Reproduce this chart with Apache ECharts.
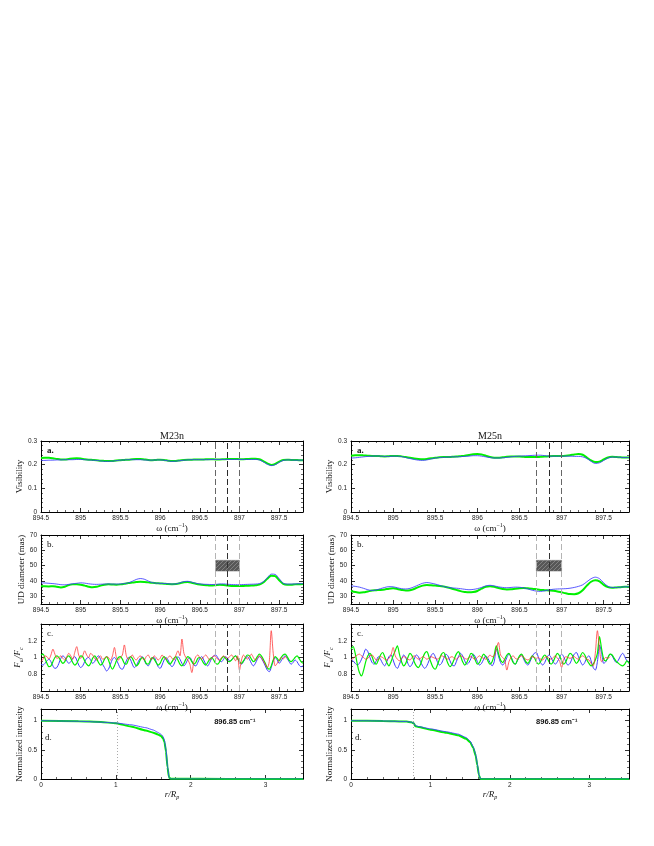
<!DOCTYPE html>
<html><head><meta charset="utf-8">
<script src="https://cdn.jsdelivr.net/npm/echarts@6/dist/echarts.min.js"></script>
<style>html,body{margin:0;padding:0;background:#fff}#c{width:654px;height:846px}</style>
</head><body><div id="c"></div>
<script>
// ---------------- DATA ----------------
const titles = ['M23n', 'M25n'];
const panelTags = ['a.', 'b.', 'c.', 'd.'];
const vLines = [896.7, 896.85, 897.0];
const udBox = [46.5, 53.5];
const dDotted = [1.02, 0.78];
const dNote = '896.85 cm⁻¹';
const abStart = 894.5, abStep = 0.05, abCount = 67;
const cStart = 894.5, cStep = 0.025, cCount = 133;

const visLeftGreen = [0.228,0.229,0.229,0.227,0.224,0.222,0.222,0.224,0.226,0.227,
 0.226,0.223,0.221,0.220,0.219,0.217,0.216,0.215,0.216,0.218,
 0.219,0.220,0.221,0.223,0.224,0.224,0.222,0.220,0.219,0.220,
 0.221,0.220,0.217,0.215,0.216,0.218,0.220,0.221,0.221,0.222,
 0.222,0.222,0.223,0.223,0.222,0.222,0.223,0.224,0.224,0.224,
 0.223,0.223,0.224,0.225,0.225,0.223,0.215,0.205,0.199,0.203,
 0.213,0.220,0.221,0.220,0.220,0.219,0.219];
const visLeftBlue = [0.218,0.218,0.219,0.219,0.220,0.220,0.221,0.221,0.221,0.222,
 0.222,0.221,0.220,0.219,0.218,0.216,0.214,0.214,0.215,0.217,
 0.219,0.220,0.221,0.221,0.221,0.221,0.220,0.219,0.219,0.220,
 0.220,0.219,0.216,0.214,0.215,0.217,0.219,0.220,0.221,0.221,
 0.221,0.221,0.221,0.222,0.222,0.222,0.222,0.222,0.222,0.222,
 0.222,0.222,0.222,0.222,0.222,0.220,0.212,0.202,0.196,0.200,
 0.210,0.218,0.220,0.220,0.219,0.219,0.219];
const visRightGreen = [0.238,0.240,0.240,0.239,0.238,0.237,0.237,0.236,0.235,0.236,
 0.237,0.237,0.235,0.232,0.229,0.226,0.224,0.223,0.224,0.227,
 0.229,0.231,0.232,0.232,0.233,0.234,0.236,0.238,0.241,0.244,
 0.245,0.243,0.238,0.232,0.229,0.229,0.231,0.233,0.234,0.234,
 0.234,0.233,0.232,0.232,0.232,0.233,0.234,0.236,0.237,0.237,
 0.237,0.238,0.240,0.243,0.245,0.242,0.230,0.218,0.211,0.213,
 0.222,0.230,0.233,0.232,0.231,0.230,0.230];
const visRightBlue = [0.228,0.229,0.231,0.233,0.235,0.236,0.237,0.236,0.235,0.235,
 0.236,0.236,0.234,0.230,0.226,0.222,0.219,0.218,0.220,0.224,
 0.228,0.230,0.231,0.232,0.233,0.233,0.234,0.235,0.236,0.238,
 0.238,0.236,0.233,0.230,0.228,0.228,0.229,0.231,0.233,0.235,
 0.236,0.237,0.238,0.239,0.240,0.240,0.238,0.236,0.236,0.236,
 0.236,0.236,0.236,0.235,0.235,0.233,0.226,0.214,0.205,0.208,
 0.218,0.228,0.232,0.232,0.231,0.230,0.230];

const udLeftBlue = [38.8,38.7,38.5,38.3,38.0,37.6,37.5,37.8,38.2,38.5,
 38.8,38.6,38.2,37.9,37.8,37.9,38.0,38.1,38.0,38.0,
 38.1,38.3,38.8,39.8,41.0,41.6,41.2,40.0,39.0,38.6,
 38.5,38.4,38.2,38.0,38.1,38.8,39.6,39.8,39.2,38.5,
 38.1,37.9,37.8,37.7,37.8,38.0,38.1,37.9,37.7,37.6,
 37.6,37.7,37.8,37.9,38.0,38.3,39.5,42.0,44.5,44.3,
 41.5,38.5,38.0,38.0,38.1,38.2,38.3];
const udLeftGreen = [36.8,36.5,36.4,36.6,36.2,35.8,36.3,37.3,37.8,37.9,
 37.6,37.0,36.3,35.9,36.2,37.0,37.6,37.8,37.7,37.6,
 37.8,38.2,38.7,39.0,39.3,39.5,39.4,39.1,38.8,38.6,
 38.4,38.2,38.0,37.9,38.0,38.5,39.2,39.4,38.9,38.2,
 37.7,37.4,37.2,37.0,37.3,37.6,37.4,37.0,36.8,36.7,
 36.7,36.8,36.9,37.0,37.2,37.6,39.0,41.5,43.5,43.2,
 40.5,38.2,37.6,37.6,37.8,37.9,38.0];
const udRightBlue = [36.8,36.5,36.0,35.2,34.3,33.8,34.2,35.0,35.8,36.3,
 36.2,35.6,35.0,34.8,35.2,36.2,37.4,38.5,39.0,38.6,
 38.0,37.2,36.4,35.8,35.5,35.3,35.0,34.6,34.3,34.5,
 35.0,35.8,36.8,37.2,36.8,36.2,35.8,35.6,35.8,36.0,
 35.9,35.5,34.8,34.0,33.4,33.2,33.6,34.2,34.6,34.8,
 34.9,35.0,35.3,35.8,36.5,37.5,39.5,41.5,42.5,41.5,
 38.8,36.5,35.8,35.8,36.0,36.2,36.3];
const udRightGreen = [33.5,32.8,32.4,32.6,33.2,33.8,34.0,34.2,34.5,35.0,
 35.2,34.8,34.2,33.8,34.0,34.8,36.0,37.0,37.4,37.2,
 37.0,36.8,36.4,35.8,35.0,34.2,33.4,32.9,32.6,32.8,
 33.5,35.0,36.2,36.6,36.2,35.4,34.8,34.5,34.6,35.0,
 35.3,35.4,35.2,35.0,34.6,34.2,34.0,33.8,33.6,33.2,
 32.6,32.0,31.5,31.4,32.0,34.0,37.0,39.5,40.5,39.8,
 37.5,36.0,35.6,35.8,36.0,36.2,36.3];

const fluxLeftBlue = [0.92,0.91,0.93,0.96,0.98,0.95,0.90,0.87, 0.88,0.93,0.99,1.02,1.00,0.96,0.93,0.95,
 0.99,1.01,0.97,0.91,0.88,0.90,0.95,0.99, 1.00,0.97,0.93,0.95,1.00,1.02,0.98,0.92,
 0.88,0.84,0.86,0.92,0.98,1.00,0.97,0.92, 0.87,0.86,0.90,0.96,1.00,0.98,0.92,0.88,
 0.90,0.95,0.99,1.01,0.97,0.92,0.90,0.94, 0.99,1.00,0.95,0.89,0.87,0.91,0.97,1.00,
 0.97,0.92,0.89,0.92,0.98,1.01,0.98,0.93, 0.90,0.93,0.98,1.00,0.96,0.91,0.90,0.94,
 0.99,1.01,0.97,0.92,0.90,0.94,0.99,1.02, 1.03,1.00,0.96,0.95,0.98,1.01,0.99,0.96,
 0.97,1.00,1.02,0.99,0.94,0.92,0.95,0.99, 1.01,0.98,0.93,0.90,0.93,0.98,1.01,0.99,
 0.95,0.90,0.85,0.83,0.88,0.96,1.00,0.97, 0.93,0.96,1.00,1.02,0.99,0.95,0.92,0.94,
 0.97,0.95,0.91,0.89,0.90];
const fluxLeftGreen = [1.03,1.04,0.99,0.93,0.89,0.90,0.95,1.00, 1.02,1.00,0.96,0.93,0.95,1.00,1.02,0.99,
 0.94,0.91,0.93,0.98,1.02,1.01,0.96,0.92, 0.90,0.93,0.99,1.02,0.99,0.94,0.91,0.93,
 0.98,1.01,0.97,0.90,0.86,0.90,0.96,1.00, 1.01,0.98,0.93,0.92,0.97,1.01,0.99,0.94,
 0.90,0.92,0.97,1.00,0.98,0.93,0.92,0.96, 1.00,0.98,0.94,0.91,0.93,0.98,1.01,0.98,
 0.94,0.92,0.95,0.99,1.01,0.97,0.92,0.90, 0.93,0.98,1.01,0.99,0.95,0.92,0.94,0.99,
 1.00,0.97,0.93,0.91,0.94,0.98,1.00,0.97, 0.93,0.92,0.95,0.99,1.01,0.99,0.96,0.95,
 0.97,1.00,1.02,0.99,0.95,0.93,0.96,1.00, 1.03,1.02,0.98,0.95,0.97,1.01,1.04,1.02,
 0.98,0.93,0.88,0.86,0.90,0.97,1.01,0.99, 0.96,1.00,1.03,1.04,1.01,0.97,0.95,0.97,
 1.00,1.02,0.99,0.95,0.93];
const fluxLeftRed = [0.95,0.98,1.02,1.01,0.98,1.03,1.10,1.04, 0.99,1.00,1.02,0.99,0.97,1.01,1.05,1.02,
 0.98,1.06,1.13,1.03,0.99,1.02,1.08,1.03, 1.00,1.05,1.03,0.99,0.97,1.00,1.02,0.98,
 0.99,1.01,1.00,0.97,1.02,1.12,1.00,0.97, 1.00,1.03,1.15,1.02,0.98,1.00,1.03,0.99,
 0.97,1.00,1.02,0.99,0.97,1.01,1.03,0.99, 0.98,1.02,1.00,0.97,0.99,1.03,1.00,0.98,
 1.00,1.02,0.99,0.97,1.03,1.08,1.02,1.22, 1.05,1.00,0.97,0.92,0.82,0.95,1.01,1.03,
 1.00,0.98,1.01,1.03,1.00,0.97,0.99,1.02, 1.01,0.98,0.97,1.00,1.02,1.00,0.99,1.01,
 1.03,1.00,0.96,1.02,0.85,0.97,1.03,1.00, 0.98,1.01,1.04,1.00,0.97,0.99,1.02,1.00,
 0.96,0.92,0.88,0.95,1.32,1.05,0.90,0.93, 0.97,1.00,0.98,1.01,0.99];
const fluxRightBlue = [0.98,0.96,0.93,0.91,0.93,0.98,1.04,1.10, 1.07,1.00,0.94,0.92,0.96,1.01,0.98,0.93,
 0.90,0.95,1.01,1.03,0.97,0.90,0.87,0.92, 0.98,1.03,1.00,0.93,0.89,0.92,0.98,1.03,
 1.01,0.95,0.90,0.87,0.90,0.96,1.02,1.05, 1.01,0.95,0.91,0.93,0.99,1.04,1.02,0.96,
 0.91,0.90,0.95,1.01,1.05,1.02,0.96,0.92, 0.94,0.99,1.04,1.01,0.95,0.91,0.93,0.98,
 1.02,0.99,0.94,0.90,0.95,1.10,1.02,0.94, 0.91,0.94,1.00,1.04,1.01,0.95,0.92,0.96,
 1.01,1.03,0.98,0.93,0.91,0.95,1.01,1.05, 1.06,1.00,0.94,0.91,0.94,1.00,1.03,1.00,
 0.95,0.92,0.95,1.00,1.04,1.01,0.95,0.91, 0.93,0.99,1.04,1.06,1.01,0.95,0.91,0.94,
 1.00,1.02,0.96,0.88,0.85,0.95,1.15,1.05, 0.93,0.95,1.00,1.04,1.02,0.97,0.94,0.97,
 1.02,1.05,1.01,0.96,0.95];
const fluxRightGreen = [1.10,1.13,1.05,0.92,0.82,0.78,0.85,0.95, 1.02,1.05,1.01,0.94,0.92,0.97,1.03,1.06,
 1.01,0.94,0.90,0.95,1.02,1.08,1.14,1.04, 0.95,0.90,0.93,1.00,1.05,1.02,0.95,0.90,
 0.88,0.92,0.99,1.05,1.07,1.01,0.94,0.88, 0.86,0.91,0.98,1.04,1.06,1.00,0.93,0.89,
 0.92,0.98,1.04,1.07,1.02,0.95,0.91,0.94, 1.00,1.05,1.03,0.97,0.92,0.94,1.00,1.04,
 1.01,0.96,0.92,0.95,1.03,1.14,1.05,0.97, 0.94,0.98,1.03,1.05,1.00,0.94,0.92,0.97,
 1.02,1.04,1.00,0.95,0.93,0.97,1.02,1.00, 0.95,0.92,0.95,1.00,1.03,1.00,0.95,0.92,
 0.95,1.01,1.05,1.02,0.96,0.92,0.95,1.01, 1.05,1.03,0.97,0.93,0.96,1.02,1.06,1.03,
 0.97,0.93,0.90,0.92,0.97,1.05,1.25,1.10, 0.98,0.96,1.00,1.04,1.03,0.99,0.95,0.93,
 0.91,0.90,0.92,0.96,0.93];
const fluxRightRed = [0.97,0.99,1.01,1.03,1.04,1.02,1.00,0.98, 0.99,1.02,1.03,1.00,0.97,0.98,1.01,1.00,
 0.98,0.97,0.99,1.03,1.12,1.02,0.98,0.96, 0.99,1.01,1.00,0.98,0.97,1.00,1.02,1.00,
 0.98,0.99,1.01,1.00,0.98,0.99,1.01,1.00, 0.99,0.98,1.00,1.02,1.01,0.99,0.98,1.00,
 1.01,0.99,0.98,1.00,1.02,1.01,0.99,0.98, 1.00,1.01,0.99,0.98,1.00,1.02,1.00,0.99,
 0.98,1.00,1.03,1.01,1.02,1.10,1.18,1.03, 1.00,0.97,0.85,0.95,1.00,1.02,0.99,0.98,
 1.00,1.02,1.00,0.98,0.97,0.99,1.01,1.00, 0.99,1.00,0.98,0.97,1.00,1.01,0.99,0.98,
 1.00,1.02,0.99,0.96,0.88,0.98,1.01,1.00, 0.99,1.00,1.01,0.99,0.98,1.00,1.02,1.00,
 0.98,0.97,0.93,0.90,1.05,1.32,1.10,0.95, 0.98,1.00,0.99,1.01];

const rLeft = [0, 0.5, 0.8, 1.0, 1.2, 1.4, 1.5, 1.56, 1.6, 1.63, 1.65, 1.67, 1.69, 1.71, 1.73, 2.5, 3.5];
const intLeftBlue = [1.0, 0.99, 0.975, 0.96, 0.93, 0.88, 0.84, 0.80, 0.77, 0.73, 0.66, 0.50, 0.22, 0.03, 0.0, 0.0, 0.0];
const intLeftGreen = [1.0, 0.99, 0.978, 0.955, 0.90, 0.83, 0.795, 0.765, 0.74, 0.70, 0.63, 0.47, 0.20, 0.03, 0.005, 0.0, 0.0];
const rRight = [0, 0.4, 0.7, 0.76, 0.79, 0.81, 0.85, 1.0, 1.2, 1.35, 1.45, 1.5, 1.54, 1.57, 1.59, 1.61, 1.63, 2.5, 3.5];
const intRightBlue = [1.0, 0.995, 0.985, 0.975, 0.96, 0.915, 0.90, 0.86, 0.81, 0.77, 0.71, 0.65, 0.55, 0.42, 0.26, 0.08, 0.0, 0.0, 0.0];
const intRightGreen = [1.0, 0.995, 0.985, 0.972, 0.955, 0.905, 0.89, 0.845, 0.795, 0.75, 0.69, 0.63, 0.53, 0.40, 0.24, 0.07, 0.0, 0.0, 0.0];

// ---------------- LAYOUT / STYLE ----------------
const FT = 'Liberation Sans', FS = 'Liberation Serif';
const GREEN = '#00f000', BLUE = '#3c3cff', RED = '#ff3030';
const cols = [41, 351], widths = [262, 278];
const rows = [[441, 71], [535, 69], [624, 67], [709, 70]];

function grid(start, step, n) { const g = []; for (let i = 0; i < n; i++) g.push(+(start + step * i).toFixed(4)); return g; }
const wAB = grid(abStart, abStep, abCount);
const wC = grid(cStart, cStep, cCount);
const pairs = (xs, ys) => ys.map((v, i) => [xs[i], v]);

function hatch() {
  const cv = document.createElement('canvas'); cv.width = 4; cv.height = 4;
  const g = cv.getContext('2d'); g.fillStyle = '#575757'; g.fillRect(0, 0, 4, 4);
  g.strokeStyle = '#8c8c8c'; g.lineWidth = 0.8; g.beginPath(); g.moveTo(0, 4); g.lineTo(4, 0); g.stroke();
  return cv;
}

const grids = [], xAxes = [], yAxes = [], series = [], graphics = [];
const nameStyle = { fontFamily: FS, fontSize: 9, color: '#111',
  rich: { n: { fontFamily: FS, fontSize: 9, color: '#111' },
          i: { fontFamily: FS, fontSize: 9, fontStyle: 'italic', color: '#111' },
          sub: { fontFamily: FS, fontSize: 6, fontStyle: 'italic', color: '#111', padding: [6, 0, 0, 0] },
          sup: { fontFamily: FS, fontSize: 6, color: '#111', padding: [0, 0, 6, 0] } } };

function axisPair(gi, cfg, isX) {
  const tick = { show: true, inside: true, length: 4, lineStyle: { color: '#000', width: 0.8 } };
  const minor = { show: true, splitNumber: cfg.minor, length: 2, lineStyle: { color: '#000', width: 0.6 } };
  const line = { show: true, onZero: false, lineStyle: { color: '#000', width: 1 } };
  const base = { type: 'value', gridIndex: gi, min: cfg.min, max: cfg.max, splitLine: { show: false },
    axisLine: line, axisTick: tick, minorTick: minor, minorSplitLine: { show: false } };
  if (cfg.interval !== undefined) base.interval = cfg.interval;
  if (cfg.splitNumber !== undefined) base.splitNumber = cfg.splitNumber;
  const main = Object.assign({}, base, {
    position: isX ? 'bottom' : 'left',
    axisLabel: { show: true, fontFamily: FT, fontSize: 6.5, color: '#222', margin: isX ? 3 : 4,
      showMinLabel: cfg.showMin !== false, showMaxLabel: cfg.showMax === true },
    name: cfg.name, nameLocation: 'middle', nameGap: isX ? 7 : 13, nameTextStyle: nameStyle
  });
  const mirror = Object.assign({}, base, { position: isX ? 'top' : 'right', axisLabel: { show: false } });
  return [main, mirror];
}

function addPanel(r, c, xcfg, ycfg) {
  const gi = grids.length;
  grids.push({ left: cols[c], top: rows[r][0], width: widths[c], height: rows[r][1] });
  xAxes.push(...axisPair(gi, xcfg, true));
  yAxes.push(...axisPair(gi, ycfg, false));
  graphics.push({ type: 'text', left: cols[c] + (r === 3 ? 4 : 6), top: rows[r][0] + (r === 3 ? 24 : 5),
    style: { text: panelTags[r], font: (r === 0 ? 'bold ' : '') + '9px ' + FS, fill: '#111' } });
  return 2 * gi;
}
function line(ax, data, color, width, extra) {
  return Object.assign({ type: 'line', xAxisIndex: ax, yAxisIndex: ax, data, showSymbol: false, symbol: 'none',
    smooth: 0.3, lineStyle: { color, width }, silent: true, animation: false, z: 3 }, extra || {});
}
function vmarks(kind) {
  const cls = kind === 'a' ? ['#666', '#2a2a2a', '#666'] : ['#b4b4b4', '#333', '#b4b4b4'];
  return { symbol: ['none', 'none'], silent: true, label: { show: false }, animation: false,
    data: vLines.map((v, k) => ({ xAxis: v, lineStyle: { color: cls[k], width: 1, type: [6, 3] } })) };
}

const wName = '{n|ω (cm}{sup|−1}{n|)}';
const xW = { min: 894.5, max: 897.8, interval: 0.5, minor: 5, name: wName };
const visSets = [[visLeftGreen, visLeftBlue], [visRightGreen, visRightBlue]];
const udSets = [[udLeftGreen, udLeftBlue], [udRightGreen, udRightBlue]];
const fluxSets = [[fluxLeftBlue, fluxLeftGreen, fluxLeftRed], [fluxRightBlue, fluxRightGreen, fluxRightRed]];
const intSets = [[rLeft, intLeftGreen, intLeftBlue], [rRight, intRightGreen, intRightBlue]];

for (let c = 0; c < 2; c++) {
  let ax = addPanel(0, c, xW, { min: 0, max: 0.3, interval: 0.1, minor: 5, showMax: true, name: 'Visibility' });
  series.push(line(ax, pairs(wAB, visSets[c][0]), GREEN, 2, { markLine: vmarks('a') }));
  series.push(line(ax, pairs(wAB, visSets[c][1]), BLUE, 1, { lineStyle: { color: BLUE, width: 1, opacity: 0.85 } }));

  ax = addPanel(1, c, xW, { min: 25, max: 70, splitNumber: 5, minor: 5, showMin: false, showMax: true, name: 'UD diameter (mas)' });
  series.push(line(ax, pairs(wAB, udSets[c][0]), GREEN, 2, { markLine: vmarks('b'),
    markArea: { silent: true, itemStyle: { color: { image: hatch(), repeat: 'repeat' }, borderColor: '#777', borderWidth: 0.5 },
      data: [[{ xAxis: vLines[0], yAxis: udBox[0] }, { xAxis: vLines[2], yAxis: udBox[1] }]] } }));
  series.push(line(ax, pairs(wAB, udSets[c][1]), BLUE, 1, { lineStyle: { color: BLUE, width: 1, opacity: 0.85 } }));

  ax = addPanel(2, c, xW, { min: 0.6, max: 1.4, interval: 0.2, minor: 4, showMin: false, showMax: false,
    name: '{i|F}{sub|ω}{i|/F}{sub|c}' });
  series.push(line(ax, pairs(wC, fluxSets[c][0]), BLUE, 1, { markLine: vmarks('c') }));
  series.push(line(ax, pairs(wC, fluxSets[c][1]), GREEN, 1.2));
  series.push(line(ax, pairs(wC, fluxSets[c][2]), RED, 0.9, { lineStyle: { color: RED, width: 0.9, opacity: 0.85 } }));

  ax = addPanel(3, c, { min: 0, max: 3.5, interval: 1, minor: 5, showMax: false, name: '{i|r/R}{sub|p}' },
    { min: 0, max: 1.2, interval: 0.5, minor: 5, showMax: false, name: 'Normalized intensity' });
  series.push(line(ax, pairs(intSets[c][0], intSets[c][1]), GREEN, 2, { smooth: 0.15, smoothMonotone: 'x',
    markLine: { symbol: ['none', 'none'], silent: true, label: { show: false }, animation: false,
      data: [{ xAxis: dDotted[c], lineStyle: { color: '#aaa', width: 1, type: [1, 2] } }] } }));
  series.push(line(ax, pairs(intSets[c][0], intSets[c][2]), BLUE, 1, { smooth: 0.15, smoothMonotone: 'x',
    lineStyle: { color: BLUE, width: 1, opacity: 0.85 } }));

  graphics.push({ type: 'text', x: cols[c] + widths[c] / 2, y: rows[0][0] - 5,
    style: { text: titles[c], font: '10px ' + FS, fill: '#111', align: 'center', verticalAlign: 'middle' } });
  graphics.push({ type: 'text', x: cols[c] + widths[c] * 0.74, y: rows[3][0] + 13,
    style: { text: dNote, font: 'bold 7.5px ' + FT, fill: '#111', align: 'center', verticalAlign: 'middle' } });
}

const chart = echarts.init(document.getElementById('c'), null, { renderer: 'canvas', width: 654, height: 846 });
chart.setOption({ animation: false, backgroundColor: '#fff', grid: grids, xAxis: xAxes, yAxis: yAxes,
  series, graphic: graphics });
</script></body></html>
